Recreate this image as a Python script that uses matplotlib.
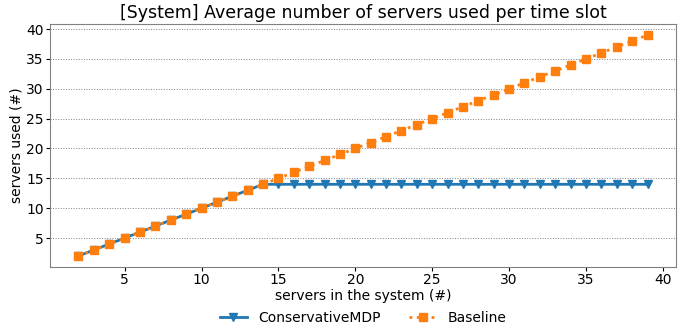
import matplotlib
matplotlib.use("Agg")
import matplotlib.pyplot as plt

servers = list(range(2, 40))
conservative = [2, 3, 4, 5, 6, 7, 8, 9, 10, 11, 12, 13, 14, 14, 14, 14, 14, 14, 14, 14,
                14, 14, 14, 14, 14, 14, 14, 14, 14, 14, 14, 14, 14, 14, 14, 14, 14, 14]
baseline = [2, 3, 4, 5, 6, 7, 8, 9, 10, 11, 12, 13, 14, 15, 16, 17, 18, 19, 20, 21,
            22, 23, 24, 25, 26, 27, 28, 29, 30, 31, 32, 33, 34, 35, 36, 37, 38, 39]

fig = plt.figure(figsize=(6.99, 3.31), dpi=100)
ax = fig.add_axes([50/699, 1-267/331, 626/699, 243/331])
ax.plot(servers, conservative, color="#1f77b4", marker="v", linestyle="-", linewidth=2,
        markersize=6, label="ConservativeMDP")
ax.plot(servers, baseline, color="#ff7f0e", marker="s", linestyle=":", linewidth=2,
        markersize=6, label="Baseline")
ax.set_title("[System] Average number of servers used per time slot", fontsize=12.5, pad=4)
ax.set_xlabel("servers in the system (#)", fontsize=10, labelpad=1)
ax.set_ylabel("servers used (#)", fontsize=10, labelpad=2)
ax.tick_params(labelsize=10, length=3, pad=1.5)
ax.set_xticks([5, 10, 15, 20, 25, 30, 35, 40])
ax.set_yticks([5, 10, 15, 20, 25, 30, 35, 40])
ax.yaxis.grid(True, linestyle=":", color="gray", linewidth=0.7)
for s in ax.spines.values():
    s.set_color("gray")
ax.legend(loc="upper center", bbox_to_anchor=(0.5, -0.13), ncol=2, frameon=False, fontsize=10,
          columnspacing=2)
fig.savefig("out.png", dpi=100)
